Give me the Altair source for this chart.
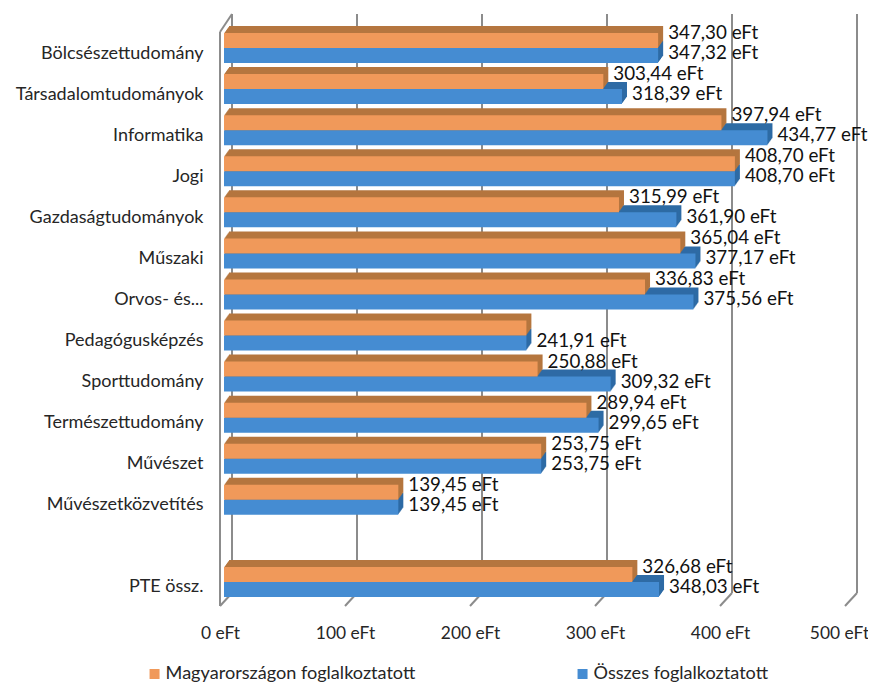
import altair as alt
import pandas as pd

categories = ["Bölcsészettudomány", "Társadalomtudományok", "Informatika", "Jogi",
              "Gazdaságtudományok", "Műszaki", "Orvos- és...", "Pedagógusképzés",
              "Sporttudomány", "Természettudomány", "Művészet", "Művészetközvetítés",
              " ", "PTE össz."]
hungary = [347.30, 303.44, 397.94, 408.70, 315.99, 365.04, 336.83, None,
           250.88, 289.94, 253.75, 139.45, None, 326.68]
hungary_bar = [347.30, 303.44, 397.94, 408.70, 315.99, 365.04, 336.83, 241.91,
               250.88, 289.94, 253.75, 139.45, None, 326.68]
total = [347.32, 318.39, 434.77, 408.70, 361.90, 377.17, 375.56, 241.91,
         309.32, 299.65, 253.75, 139.45, None, 348.03]
ticks = [0, 100, 200, 300, 400, 500]
S1 = "Magyarországon foglalkoztatott"
S2 = "Összes foglalkoztatott"
ORANGE, ORANGE_D = "#F0995A", "#B5763F"
BLUE, BLUE_D = "#458CD2", "#2E6BA5"
GRID = "#8C8C8C"
TEXT = "#262626"
FONT = "Lato"

df = pd.DataFrame({"cat": categories, "h": hungary, "hb": hungary_bar, "t": total, "base": 0})
df_b = df.dropna(subset=["t"]).copy()
df_b["s1"] = S1
df_b["s2"] = S2
df_b["hl"] = df_b["h"].map(lambda v: "" if pd.isna(v) else f"{v:.2f} eFt".replace(".", ","))
df_b["tl"] = df_b["t"].map(lambda v: f"{v:.2f} eFt".replace(".", ","))
df_t = pd.DataFrame({"tick": ticks})

xs = alt.Scale(domain=[0, 500], range=[0, 625], nice=False)
ys = alt.Scale(domain=categories, paddingInner=0.27, paddingOuter=0.135)
colors = alt.Scale(domain=[S1, S2], range=[ORANGE, BLUE])
X_AXIS = alt.Axis(values=ticks, labelExpr="datum.value + ' eFt'", title=None, grid=False,
                  ticks=False, domain=False, labelFont=FONT, labelFontSize=17.4,
                  labelColor=TEXT, labelPadding=22, labelOverlap=False, labelFlush=False,
                  labelBound=False,
                  labelOffset={"condition": {"test": "datum.value === 500", "value": -6}, "value": 0})
Y_AXIS = alt.Axis(title=None, ticks=False, domain=False, grid=False, labelFont=FONT,
                  labelFontSize=18, labelColor=TEXT, labelPadding=17, labelOffset=5.5,
                  labelOverlap=False, labelLimit=220)

TOP_B, FLOOR_B, TOP_F, FLOOR_F = -13.5, 565.5, 4.5, 578.5

base_t = alt.Chart(df_t)
back = base_t.mark_rule(color=GRID, strokeWidth=2, xOffset=12).encode(
    x=alt.X("tick:Q", scale=xs, axis=X_AXIS),
    y=alt.value(TOP_B), y2=alt.value(FLOOR_B))
diag = base_t.mark_rule(color=GRID, strokeWidth=2, xOffset=0, x2Offset=12).encode(
    x=alt.X("tick:Q", scale=xs), x2="tick:Q",
    y=alt.value(FLOOR_F), y2=alt.value(FLOOR_B))
left = alt.Chart(df_t[df_t.tick == 0])
wall = left.mark_rule(color=GRID, strokeWidth=2).encode(
    x=alt.X("tick:Q", scale=xs), y=alt.value(TOP_F), y2=alt.value(FLOOR_F))
wall_top = left.mark_rule(color=GRID, strokeWidth=2, xOffset=0, x2Offset=12).encode(
    x=alt.X("tick:Q", scale=xs), x2="tick:Q",
    y=alt.value(TOP_F), y2=alt.value(TOP_B))

BAR_H = 15
FRONT = 4


def extrude(field, color, ybase):
    out = []
    for i in range(7, 0, -1):
        dx = FRONT + i * 5 / 7
        out.append(alt.Chart(df_b).mark_bar(color=color, height=BAR_H, xOffset=dx, x2Offset=dx,
                                            yOffset=ybase - i).encode(
            x=alt.X(f"{field}:Q", scale=xs), x2="base:Q",
            y=alt.Y("cat:N", scale=ys, axis=Y_AXIS, sort=categories)))
    return out


def front(field, sfield, ybase):
    return alt.Chart(df_b).mark_bar(height=BAR_H, xOffset=FRONT, x2Offset=FRONT, yOffset=ybase).encode(
        x=alt.X(f"{field}:Q", scale=xs), x2="base:Q",
        y=alt.Y("cat:N", scale=ys, axis=Y_AXIS, sort=categories),
        color=alt.Color(f"{sfield}:N", scale=colors, legend=alt.Legend(
            title=None, orient="none", legendX=-74.5, legendY=637, columns=2, direction="horizontal",
            symbolType="square", symbolSize=100, symbolStrokeWidth=0, labelFont=FONT,
            labelFontSize=18.1, labelColor=TEXT, columnPadding=158, labelOffset=2, labelLimit=300)))


def labels(field, lab, dy):
    return alt.Chart(df_b).mark_text(align="left", baseline="middle", dx=14, dy=dy, font=FONT,
                                     fontSize=18.8, color="#111111").encode(
        x=alt.X(f"{field}:Q", scale=xs),
        y=alt.Y("cat:N", scale=ys, axis=Y_AXIS, sort=categories),
        text=f"{lab}:N")


layers = [back, diag, wall, wall_top]
layers += extrude("t", BLUE_D, 7.5) + [front("t", "s2", 7.5)]
layers += extrude("hb", ORANGE_D, -7.5) + [front("hb", "s1", -7.5)]
layers += [labels("hb", "hl", -15), labels("t", "tl", 5)]

chart = alt.layer(*layers).resolve_scale(color="shared").properties(
    width=625, height=575,
    padding={"left": 212, "top": 19.5, "right": 23, "bottom": 79.5},
    autosize="none", background="white",
).configure_view(stroke=None)

chart.save("out.html", embed_options={"renderer": "svg", "actions": False})
